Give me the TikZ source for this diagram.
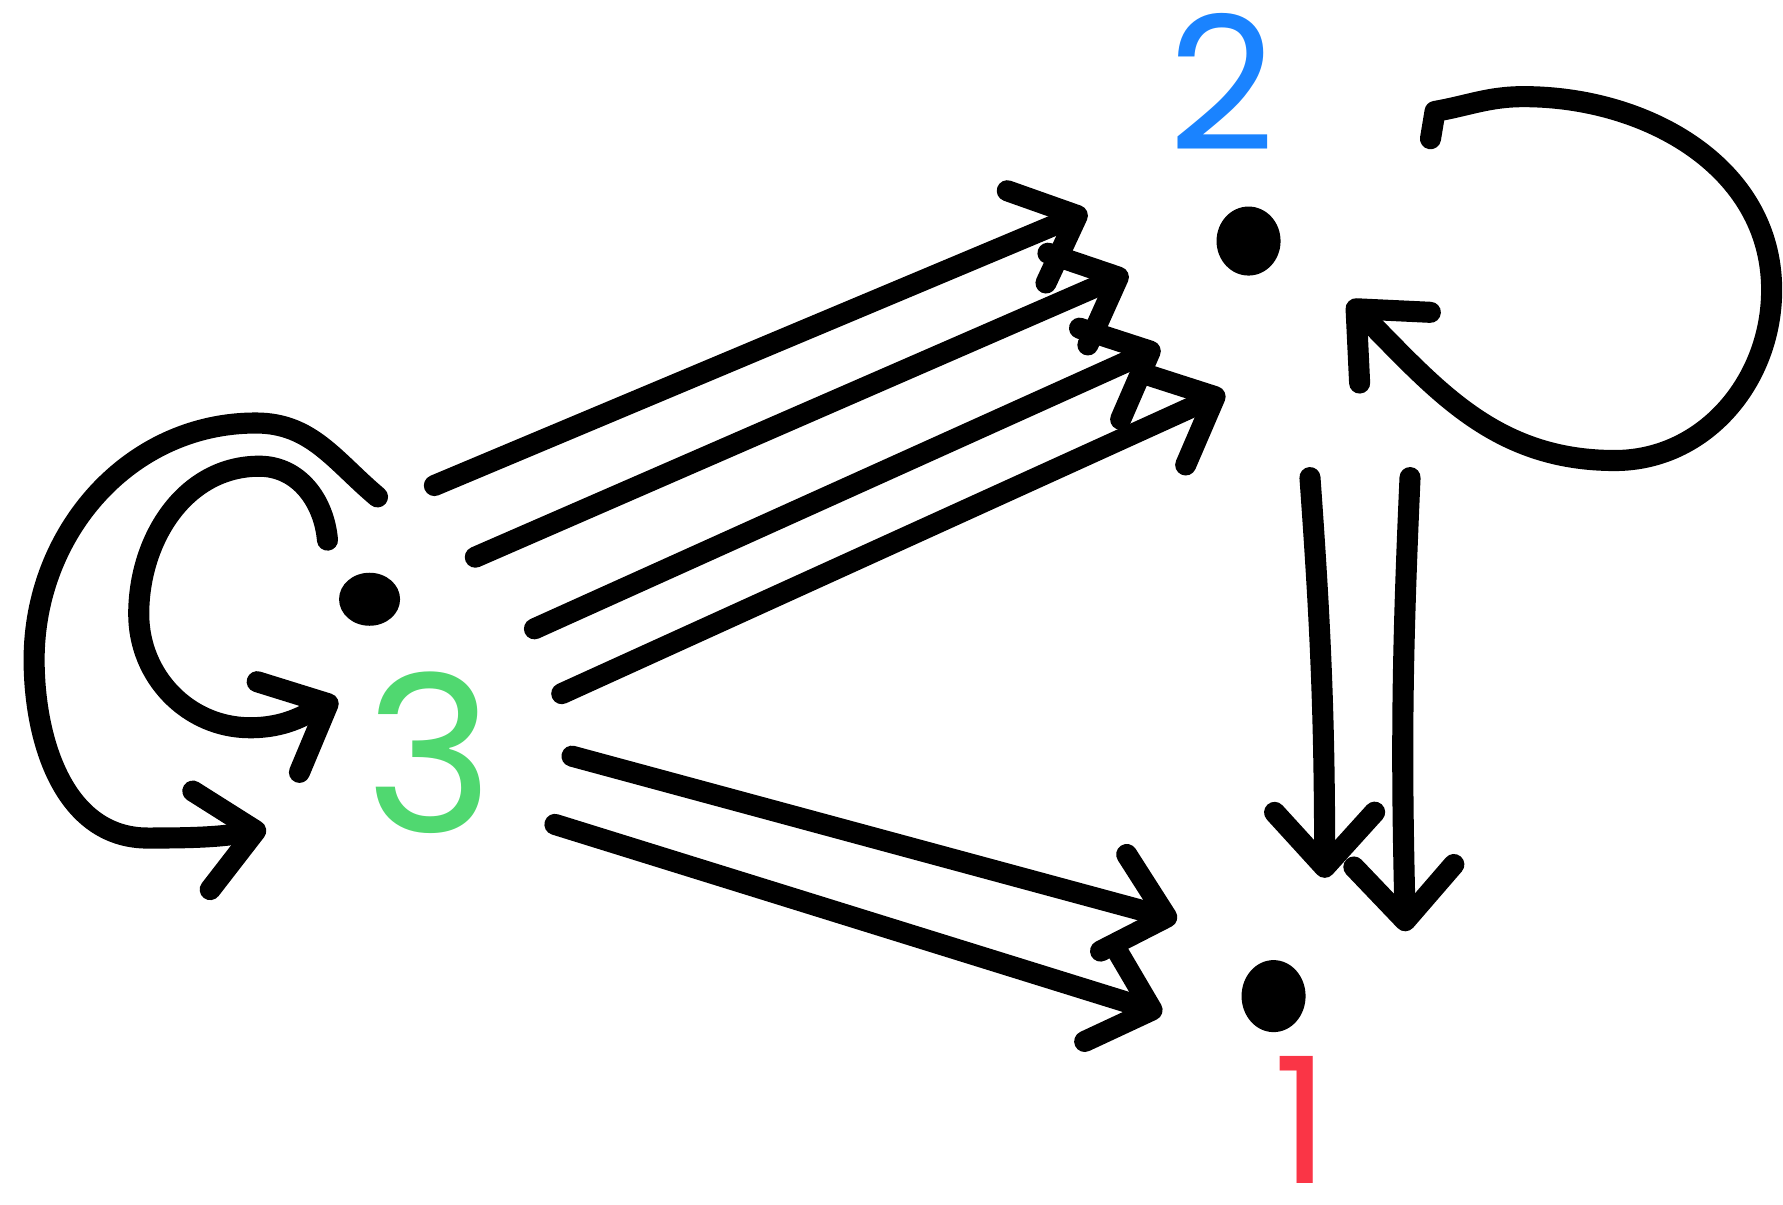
\documentclass[tikz,border=0pt]{standalone}
\usepackage{fontspec}
\newfontfamily\digitfont{Poppins}
\usetikzlibrary{arrows.meta,shapes.geometric}
\definecolor{statered}{RGB}{250,53,70}
\definecolor{stateblue}{RGB}{26,131,255}
\definecolor{stategreen}{RGB}{80,216,112}
\tikzset{
  dot/.style={ellipse,fill=black,inner sep=0pt},
  digit/.style={inner sep=0pt,font=\digitfont},
  arr/.style={line width=6pt,line cap=round,line join=round,
    -{Straight Barb[length=5.5mm,width=10mm,round]}}
}
\begin{document}
\begin{tikzpicture}[x=0.011371cm,y=-0.011371cm]
  \useasboundingbox (0,0) rectangle (1568,1059);
  % states
  \node[dot,minimum width=0.61cm,minimum height=0.53cm] (s3) at (325,527) {};
  \node[dot,minimum width=0.64cm,minimum height=0.69cm] (s2) at (1098,212) {};
  \node[dot,minimum width=0.64cm,minimum height=0.72cm] (s1) at (1120,876) {};
  \node[digit,stateblue,font=\digitfont\fontsize{53}{53}\selectfont] (l2) at (1075,72) {2};
  \node[digit,stategreen,font=\digitfont\fontsize{62}{62}\selectfont] (l3) at (378,662) {3};
  \node[digit,statered,font=\digitfont\fontsize{50}{50}\selectfont] (l1) at (1145,985) {1};
  % 3 to 2
  \coordinate (p1) at (382,427);  \coordinate (q1) at (956,186);
  \coordinate (p2) at (418,490);  \coordinate (q2) at (992,240);
  \coordinate (p3) at (470,553);  \coordinate (q3) at (1020,305);
  \coordinate (p4) at (494,610);  \coordinate (q4) at (1077,345);
  \foreach \i in {1,...,4}
    \draw[arr] (p\i) -- (q\i);
  % 3 to 1
  \coordinate (p5) at (503,665);  \coordinate (q5) at (1035,809);
  \coordinate (p6) at (488,725);  \coordinate (q6) at (1022,891);
  \draw[arr] (p5) -- (q5);
  \draw[arr] (p6) -- (q6);
  % 2 to 1
  \coordinate (p7) at (1152,420); \coordinate (q7) at (1165,772);
  \coordinate (p8) at (1240,420); \coordinate (q8) at (1236,819);
  \draw[arr] (p7) to[bend left=2] (q7);
  \draw[arr] (p8) to[bend right=2] (q8);
  % loops at 3
  \coordinate (o3) at (332,437);  \coordinate (o3e) at (234,729);
  \coordinate (i3) at (288,475);  \coordinate (i3e) at (297,615);
  \draw[arr] (o3) to[out=140,in=0] (225,372) to[out=180,in=90] (30,580)
    to[out=-90,in=180] (130,737) to[out=0,in=190] (o3e);
  \draw[arr] (i3) to[out=95,in=0] (228,410) to[out=180,in=90] (122,540)
    to[out=-90,in=180] (220,640) to[out=0,in=205] (i3e);
  % loop at 2
  \coordinate (o2) at (1258,122); \coordinate (o2e) at (1186,265);
  \draw[arr] (o2) -- (1262,98) to[out=10,in=180] (1340,85)
    to[out=0,in=90] (1558,255) to[out=-90,in=0] (1420,405)
    to[out=180,in=-45] (o2e);
\end{tikzpicture}
\end{document}
